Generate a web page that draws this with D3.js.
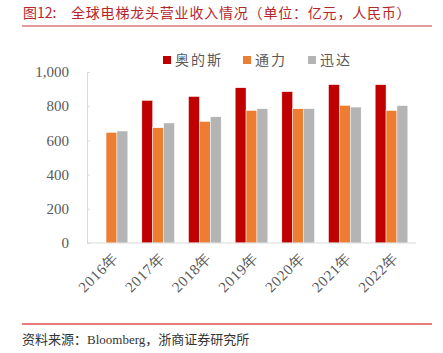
<!DOCTYPE html>
<html>
<head>
<meta charset="utf-8">
<script src="https://cdn.jsdelivr.net/npm/d3@7"></script>
<style>
  body { margin: 0; background: #fff; }
  svg { display: block; }
</style>
</head>
<body>
<div id="chart"></div>
<script>
// data
const years = ['2016年', '2017年', '2018年', '2019年', '2020年', '2021年', '2022年'];
const seriesNames = ['奥的斯', '通力', '迅达'];
const otis = [null, 834, 857, 908, 885, 926, 926];
const kone = [647, 674, 711, 775, 785, 805, 775];
const schindler = [655, 702, 738, 785, 785, 795, 803];
const yTicks = [0, 200, 400, 600, 800, 1000];

const colors = ['#c00000', '#ed7d31', '#b4b4b4'];
const seriesValues = [otis, kone, schindler];

const width = 443, height = 353;
const cjk = '"Noto Sans CJK SC", sans-serif';
const serif = '"Liberation Serif", "Times New Roman", serif';

const svg = d3.select('#chart').append('svg')
  .attr('width', width)
  .attr('height', height);

// title
svg.append('text')
  .attr('x', 23)
  .attr('y', 18)
  .style('font-family', cjk)
  .style('font-size', '14px')
  .style('fill', '#b5262c')
  .text('图12:');

svg.append('text')
  .attr('x', 71)
  .attr('y', 18)
  .style('font-family', cjk)
  .style('font-size', '14px')
  .style('letter-spacing', '0.8px')
  .style('fill', '#b5262c')
  .text('全球电梯龙头营业收入情况（单位：亿元，人民币）');

svg.append('line')
  .attr('x1', 22).attr('x2', 432)
  .attr('y1', 26).attr('y2', 26)
  .attr('stroke', '#e49a9a')
  .attr('stroke-width', 2);

// scales
const x0 = d3.scaleBand()
  .domain(years)
  .range([87, 416])
  .paddingInner(0.3)
  .paddingOuter(0.175);

const x1 = d3.scaleBand()
  .domain(seriesNames)
  .range([0, x0.bandwidth()]);

const y = d3.scaleLinear()
  .domain([0, 1000])
  .range([243, 72]);

// y axis
const yAxis = svg.append('g')
  .attr('transform', 'translate(87,0)')
  .call(d3.axisRight(y).tickValues(yTicks).tickSize(3).tickFormat(''));
yAxis.select('.domain').attr('stroke', '#d9d9d9');
yAxis.selectAll('.tick line').attr('stroke', '#d9d9d9');

svg.selectAll('.ylabel')
  .data(yTicks)
  .enter()
  .append('text')
  .attr('class', 'ylabel')
  .attr('x', 69)
  .attr('y', d => y(d))
  .attr('dy', '0.35em')
  .attr('text-anchor', 'end')
  .style('font-family', serif)
  .style('font-size', '15px')
  .style('fill', '#595959')
  .text(d => d3.format(',')(d));

// bars
const groups = svg.selectAll('.year')
  .data(years)
  .enter()
  .append('g')
  .attr('class', 'year')
  .attr('transform', d => `translate(${x0(d)},0)`);

groups.selectAll('rect')
  .data((d, i) => seriesNames.map((s, j) => ({ s, j, v: seriesValues[j][i] })).filter(e => e.v != null))
  .enter()
  .append('rect')
  .attr('x', d => x1(d.s))
  .attr('y', d => y(d.v))
  .attr('width', x1.bandwidth())
  .attr('height', d => y(0) - y(d.v))
  .attr('fill', d => colors[d.j])
  .attr('stroke', '#fff')
  .attr('stroke-width', 0.5);

// x axis line
svg.append('line')
  .attr('x1', 87).attr('x2', 416)
  .attr('y1', y(0)).attr('y2', y(0))
  .attr('stroke', '#d9d9d9')
  .attr('stroke-width', 1);

// x labels
svg.selectAll('.xlabel')
  .data(years)
  .enter()
  .append('text')
  .attr('class', 'xlabel')
  .attr('transform', d => `translate(${x0(d) + x0.bandwidth() / 2 + 4},${y(0) + 12}) rotate(-45)`)
  .attr('text-anchor', 'end')
  .attr('dy', '0.35em')
  .style('font-family', serif)
  .style('font-size', '15px')
  .style('letter-spacing', '0.8px')
  .style('fill', '#595959')
  .text(d => d);

// legend
const legendX = [163, 243, 308];
const legend = svg.selectAll('.legend')
  .data(seriesNames)
  .enter()
  .append('g')
  .attr('class', 'legend')
  .attr('transform', (d, i) => `translate(${legendX[i]},56)`);

legend.append('rect')
  .attr('width', 8)
  .attr('height', 8)
  .attr('fill', (d, i) => colors[i]);

legend.append('text')
  .attr('x', 12)
  .attr('y', 4)
  .attr('dy', '0.35em')
  .style('font-family', cjk)
  .style('font-size', '14px')
  .style('letter-spacing', '2px')
  .style('fill', '#595959')
  .text(d => d);

// footer
svg.append('line')
  .attr('x1', 22).attr('x2', 432)
  .attr('y1', 324).attr('y2', 324)
  .attr('stroke', '#e05050')
  .attr('stroke-width', 1.5);

svg.append('text')
  .attr('x', 22)
  .attr('y', 344)
  .style('font-family', cjk)
  .style('font-size', '13px')
  .style('fill', '#333')
  .text('资料来源：')
  .append('tspan')
  .style('font-family', serif)
  .text('Bloomberg')
  .append('tspan')
  .style('font-family', cjk)
  .text('，浙商证券研究所');
</script>
</body>
</html>
